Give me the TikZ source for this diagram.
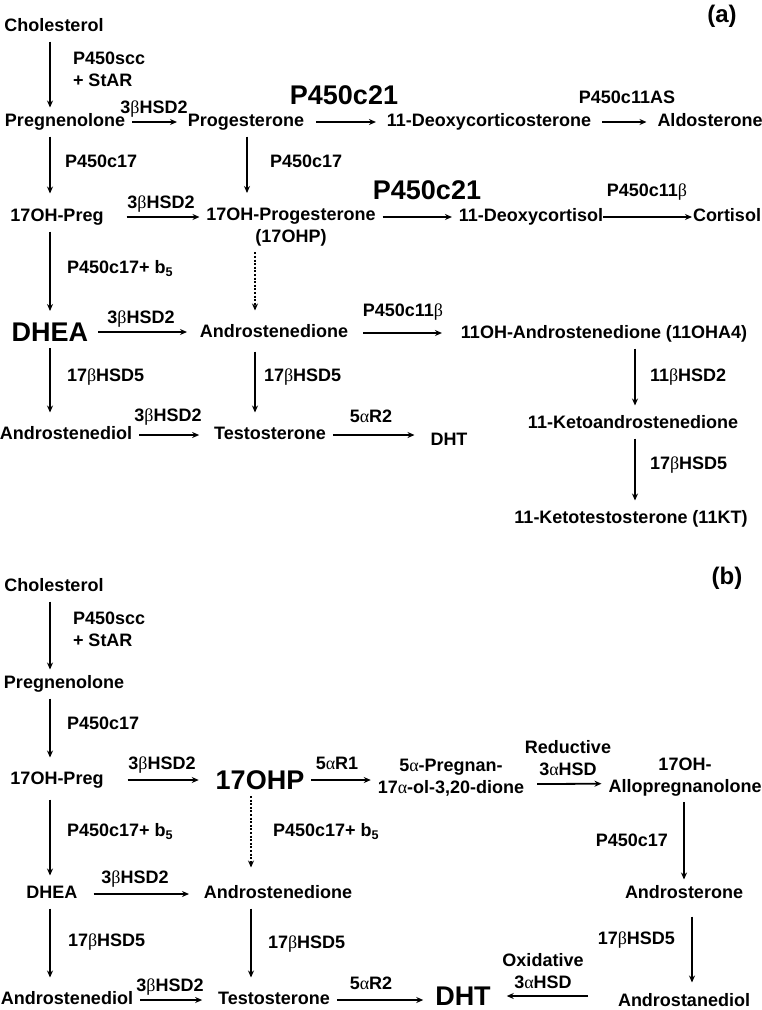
\documentclass[tikz,border=0pt]{standalone}
\usepackage{fontspec}
\setmainfont{Liberation Sans}
\newfontfamily\grk{Liberation Serif}
\usetikzlibrary{arrows.meta}
\newcommand{\gbeta}{{\grk\mdseries β}}
\newcommand{\galpha}{{\grk\mdseries α}}

\begin{document}
\begin{tikzpicture}[x=1pt,y=-1pt,>={Stealth[length=7pt,width=6pt]},
    met/.style={font=\bfseries\fontsize{18}{22}\selectfont,inner sep=0pt,
      outer xsep=7pt,outer ysep=6pt,text height=13pt,text depth=4pt},
    bigmet/.style={met,font=\bfseries\fontsize{27}{30}\selectfont,
      text height=19.5pt,text depth=0.5pt},
    twomet/.style={met,align=center,text height={},text depth={}},
    enz/.style={font=\bfseries\fontsize{18}{22}\selectfont,inner sep=0pt,
      outer sep=0pt,text height=13pt,text depth=4pt},
    bigenz/.style={enz,font=\bfseries\fontsize{27}{30}\selectfont,
      text height=19.5pt,text depth=0.5pt},
    twoenz/.style={enz,text height={},text depth={}},
    panel/.style={font=\bfseries\fontsize{24}{28}\selectfont,inner sep=0pt},
    arr/.style={->,line width=1.8pt},
    dotarr/.style={arr,dash pattern=on 2pt off 1.6pt}
  ]
  \useasboundingbox (0,0) rectangle (762,1010);
  % arrow columns
  \coordinate (c1) at (50,0);
  \coordinate (c2) at (247,0);
  \coordinate (c3) at (255,0);
  \coordinate (c4) at (635,0);
  \coordinate (c5) at (251,0);
  \coordinate (c6) at (684,0);
  \coordinate (c7) at (692,0);

  % (a)
  \node[panel] (pa) at (722,16) {(a)};
  \node[met] (chola)  at (54,27)   {Cholesterol};
  \node[met] (prega)  at (65,122)  {Pregnenolone};
  \node[met] (proga)  at (246,122) {Progesterone};
  \node[met] (docs)   at (489,122) {11-Deoxycorticosterone};
  \node[met] (aldo)   at (710,122) {Aldosterone};
  \node[met] (ohpa)   at (57,217)  {17OH-Preg};
  \node[twomet,anchor=north] (ohpga) at (291,202) {17OH-Progesterone\\(17OHP)};
  \node[met] (dcort)  at (531,217) {11-Deoxycortisol};
  \node[met] (cort)   at (727,217) {Cortisol};
  \node[bigmet] (dhea) at (50,332) {DHEA};
  \node[met] (androa) at (274,333) {Androstenedione};
  \node[met] (ohaa)   at (604,334) {11OH-Androstenedione (11OHA4)};
  \node[met] (adiola) at (66,435)  {Androstenediol};
  \node[met] (testa)  at (270,435) {Testosterone};
  \node[met] (dhta)   at (449,441) {DHT};
  \node[met] (ketoa)  at (633,424) {11-Ketoandrostenedione};
  \node[met] (ktesta) at (631,519) {11-Ketotestosterone (11KT)};

  \node[twoenz,align=left,anchor=north west] (e1) at (73,51.5) {P450scc\\+ StAR};
  \node[enz] (e2)  at (154,109) {3\gbeta HSD2};
  \node[bigenz] (e3) at (344,95) {P450c21};
  \node[enz] (e4)  at (627,99)  {P450c11AS};
  \node[enz,anchor=west] (e5) at (65,163)  {P450c17};
  \node[enz,anchor=west] (e6) at (270,163) {P450c17};
  \node[enz] (e7)  at (161,204) {3\gbeta HSD2};
  \node[bigenz] (e8) at (427,190) {P450c21};
  \node[enz] (e9)  at (647,192) {P450c11\gbeta};
  \node[enz,anchor=west] (e10) at (67,269) {P450c17+ b\textsubscript{5}};
  \node[enz] (e11) at (141,319) {3\gbeta HSD2};
  \node[enz] (e12) at (403,312) {P450c11\gbeta};
  \node[enz,anchor=west] (e13) at (67,377)  {17\gbeta HSD5};
  \node[enz,anchor=west] (e14) at (264,377) {17\gbeta HSD5};
  \node[enz] (e15) at (168,417) {3\gbeta HSD2};
  \node[enz] (e16) at (371,418) {5\galpha R2};
  \node[enz,anchor=west] (e17) at (650,377) {11\gbeta HSD2};
  \node[enz,anchor=west] (e18) at (650,465) {17\gbeta HSD5};

  \draw[arr] (chola.south -| c1) -- (prega.north -| c1);
  \draw[arr,shorten >=4pt] (prega) -- (proga);
  \draw[arr,shorten <=5pt,shorten >=4pt] (proga) -- (docs);
  \draw[arr,shorten <=4pt,shorten >=4pt] (docs) -- (aldo);
  \draw[arr,shorten >=9pt] (prega.south -| c1) -- (ohpa.north -| c1);
  \draw[arr,shorten >=9pt] (proga.south -| c2) -- (ohpga.north -| c2);
  \draw[arr,shorten <=16pt] (ohpa) -- (ohpga.west |- ohpa);
  \draw[arr] (ohpga.east |- dcort) -- (dcort);
  \draw[arr,shorten <=-7pt,shorten >=-6pt] (dcort) -- (cort);
  \draw[arr,shorten >=5pt] (ohpa.south -| c1) -- (dhea.north -| c1);
  \draw[dotarr,shorten >=8pt] (ohpga.south -| c3) -- (androa.north -| c3);
  \draw[arr,shorten <=3pt,shorten >=6pt] (dhea) -- (androa.west |- dhea);
  \draw[arr,shorten <=8pt,shorten >=12pt] (androa) -- (ohaa.west |- androa);
  \draw[arr,shorten >=8pt] (dhea.south -| c1) -- (adiola.north -| c1);
  \draw[arr,shorten <=4pt,shorten >=8pt] (androa.south -| c3) -- (testa.north -| c3);
  \draw[arr,shorten >=8pt] (adiola) -- (testa);
  \draw[arr,shorten >=9pt] (testa) -- (dhta.west |- testa);
  \draw[arr,shorten >=4pt] (ohaa.south -| c4) -- (ketoa.north -| c4);
  \draw[arr,shorten >=4pt] (ketoa.south -| c4) -- (ktesta.north -| c4);

  % (b)
  \node[panel] (pb) at (727,578) {(b)};
  \node[met] (cholb)  at (54,587)  {Cholesterol};
  \node[met] (pregb)  at (64,684)  {Pregnenolone};
  \node[met] (ohpb)   at (57,780)  {17OH-Preg};
  \node[bigmet] (ohpgb) at (260,780) {17OHP};
  \node[twomet,anchor=north] (prgn) at (451,753) {5\galpha-Pregnan-\\17\galpha-ol-3,20-dione};
  \node[twomet,anchor=north] (allo) at (685,752) {17OH-\\Allopregnanolone};
  \node[met] (andro)  at (684,894) {Androsterone};
  \node[met] (adiol)  at (684,1002) {Androstanediol};
  \node[met] (dheab)  at (52,894)  {DHEA};
  \node[met] (androb) at (278,894) {Androstenedione};
  \node[met] (adiolb) at (67,1000) {Androstenediol};
  \node[met] (testb)  at (274,1000) {Testosterone};
  \node[bigmet] (dhtb) at (463,996) {DHT};

  \node[twoenz,align=left,anchor=north west] (f1) at (73,611.5) {P450scc\\+ StAR};
  \node[enz,anchor=west] (f2) at (67,725) {P450c17};
  \node[enz] (f3) at (162,765) {3\gbeta HSD2};
  \node[enz] (f4) at (337,765) {5\galpha R1};
  \node[twoenz,align=center,anchor=north] (f5) at (568,740.5) {Reductive\\3\galpha HSD};
  \node[enz,anchor=east] (f6) at (668,842) {P450c17};
  \node[enz,anchor=east] (f7) at (675,940) {17\gbeta HSD5};
  \node[twoenz,align=center,anchor=north] (f8) at (543,953.5) {Oxidative\\3\galpha HSD};
  \node[enz,anchor=west] (f9)  at (67,832)  {P450c17+ b\textsubscript{5}};
  \node[enz,anchor=west] (f10) at (273,832) {P450c17+ b\textsubscript{5}};
  \node[enz] (f11) at (135,879) {3\gbeta HSD2};
  \node[enz,anchor=west] (f12) at (68,942)  {17\gbeta HSD5};
  \node[enz,anchor=west] (f13) at (268,944) {17\gbeta HSD5};
  \node[enz] (f14) at (170,987) {3\gbeta HSD2};
  \node[enz] (f15) at (371,985) {5\galpha R2};

  \draw[arr] (cholb.south -| c1) -- (pregb.north -| c1);
  \draw[arr,shorten >=8pt] (pregb.south -| c1) -- (ohpb.north -| c1);
  \draw[arr,shorten <=17pt,shorten >=10pt] (ohpb) -- (ohpgb.west |- ohpb);
  \draw[arr] (ohpgb) -- (prgn.west |- ohpgb);
  \draw[arr,shorten <=6pt] ([yshift=-6.5pt]prgn.east) -- ([yshift=-6.5pt]allo.west);
  \draw[arr] (allo.south -| c6) -- (andro.north -| c6);
  \draw[arr,shorten <=8pt,shorten >=5pt] (andro.south -| c7) -- (adiol.north -| c7);
  \draw[arr,shorten <=23pt,shorten >=9pt] (adiol.west |- dhtb) -- (dhtb);
  \draw[arr,shorten <=5pt,shorten >=4pt] (ohpb.south -| c1) -- (dheab.north -| c1);
  \draw[dotarr,shorten >=12pt] (ohpgb.south -| c5) -- (androb.north -| c5);
  \draw[arr,shorten <=9pt,shorten >=8pt] (dheab) -- (androb);
  \draw[arr,shorten >=8pt] (dheab.south -| c1) -- (adiolb.north -| c1);
  \draw[arr,shorten >=8pt] (androb.south -| c5) -- (testb.north -| c5);
  \draw[arr,shorten >=9pt] (adiolb) -- (testb);
  \draw[arr,shorten >=5pt] (testb) -- (dhtb.west |- testb);
\end{tikzpicture}
\end{document}
